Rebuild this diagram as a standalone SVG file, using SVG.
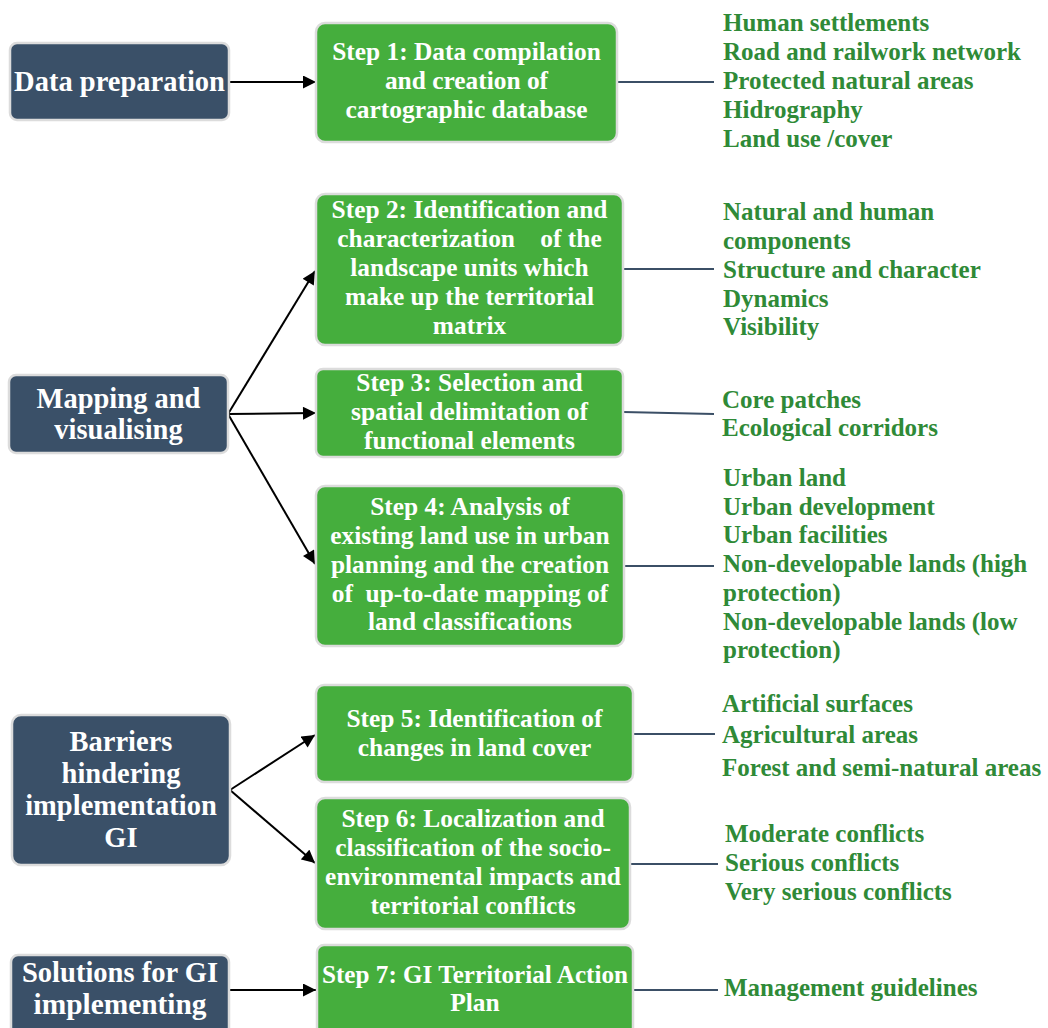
<svg xmlns="http://www.w3.org/2000/svg" width="1048" height="1028" viewBox="0 0 1048 1028">
<defs>
<marker id="ah" viewBox="0 0 10 10" refX="10" refY="5" markerWidth="7" markerHeight="6.5" markerUnits="strokeWidth" orient="auto">
<path d="M0,0 L10,5 L0,10 Z" fill="#000"/>
</marker>
<style>
.phase{fill:#3a5068;stroke:#dcdcdc;stroke-width:2.5}
.step{fill:#45ae3d;stroke:#dcdcdc;stroke-width:2.5}
.pt{font-family:"Liberation Serif",serif;font-weight:bold;font-size:28.5px;fill:#fff;text-anchor:middle}
.st{font-family:"Liberation Serif",serif;font-weight:bold;font-size:25.4px;fill:#fff;text-anchor:middle;white-space:pre}
.it{font-family:"Liberation Serif",serif;font-weight:bold;font-size:25px;fill:#2f8a37}
.arr{stroke:#000;stroke-width:2;fill:none;marker-end:url(#ah)}
.ln{stroke:#3b4f66;stroke-width:2.2;fill:none}
</style>
</defs>
<rect width="1048" height="1028" fill="#fff"/>
<g id="connectors">
<line class="arr" x1="229" y1="82" x2="316" y2="82"/>
<line class="arr" x1="228" y1="414" x2="315" y2="271"/>
<line class="arr" x1="228" y1="414" x2="316" y2="413"/>
<line class="arr" x1="228" y1="414" x2="315" y2="564"/>
<line class="arr" x1="230" y1="790" x2="315" y2="735"/>
<line class="arr" x1="230" y1="790" x2="315" y2="863"/>
<line class="arr" x1="229" y1="990" x2="316" y2="990"/>
<line class="ln" x1="617" y1="82" x2="714" y2="82"/>
<line class="ln" x1="623" y1="269" x2="714" y2="269"/>
<line class="ln" x1="623" y1="412" x2="714" y2="414"/>
<line class="ln" x1="624" y1="566" x2="714" y2="566"/>
<line class="ln" x1="633" y1="734" x2="715" y2="734"/>
<line class="ln" x1="630" y1="864" x2="718" y2="864"/>
<line class="ln" x1="633" y1="990" x2="718" y2="990"/>
</g>
<g id="phase1">
<rect class="phase" x="10" y="43" width="219" height="77" rx="7"/>
<text class="pt" x="119.5" y="91">Data preparation</text>
</g>
<g id="phase2">
<rect class="phase" x="9" y="375" width="219" height="78" rx="7"/>
<text class="pt" x="118.5" y="408">Mapping and</text>
<text class="pt" x="118.5" y="439">visualising</text>
</g>
<g id="phase3">
<rect class="phase" x="12" y="715" width="218" height="150" rx="9"/>
<text class="pt" x="121" y="751">Barriers</text>
<text class="pt" x="121" y="783">hindering</text>
<text class="pt" x="121" y="815">implementation</text>
<text class="pt" x="121" y="847">GI</text>
</g>
<g id="phase4">
<rect class="phase" x="11" y="955" width="218" height="80" rx="7"/>
<text class="pt" x="120" y="982" textLength="196" lengthAdjust="spacingAndGlyphs">Solutions for GI</text>
<text class="pt" x="120" y="1014" textLength="173" lengthAdjust="spacingAndGlyphs">implementing</text>
</g>
<g id="step1">
<rect class="step" x="316" y="23" width="301" height="119" rx="9"/>
<text class="st" x="466.5" y="60">Step 1: Data compilation</text>
<text class="st" x="466.5" y="89">and creation of</text>
<text class="st" x="466.5" y="118">cartographic database</text>
</g>
<g id="step2">
<rect class="step" x="316" y="194" width="307" height="151" rx="9"/>
<text class="st" x="469.5" y="218">Step 2: Identification and</text>
<text class="st" x="469.5" y="247">characterization    of the</text>
<text class="st" x="469.5" y="276">landscape units which</text>
<text class="st" x="469.5" y="305">make up the territorial</text>
<text class="st" x="469.5" y="334">matrix</text>
</g>
<g id="step3">
<rect class="step" x="316" y="369" width="307" height="88" rx="7"/>
<text class="st" x="469.5" y="391">Step 3: Selection and</text>
<text class="st" x="469.5" y="420">spatial delimitation of</text>
<text class="st" x="469.5" y="449">functional elements</text>
</g>
<g id="step4">
<rect class="step" x="316" y="486" width="308" height="160" rx="9"/>
<text class="st" x="470" y="515">Step 4: Analysis of</text>
<text class="st" x="470" y="544">existing land use in urban</text>
<text class="st" x="470" y="573">planning and the creation</text>
<text class="st" x="470" y="602">of  up-to-date mapping of</text>
<text class="st" x="470" y="630">land classifications</text>
</g>
<g id="step5">
<rect class="step" x="316" y="685" width="317" height="97" rx="8"/>
<text class="st" x="474.5" y="727">Step 5: Identification of</text>
<text class="st" x="474.5" y="756">changes in land cover</text>
</g>
<g id="step6">
<rect class="step" x="316" y="798" width="314" height="131" rx="9"/>
<text class="st" x="473" y="827">Step 6: Localization and</text>
<text class="st" x="473" y="856">classification of the socio-</text>
<text class="st" x="473" y="885">environmental impacts and</text>
<text class="st" x="473" y="914">territorial conflicts</text>
</g>
<g id="step7">
<rect class="step" x="317" y="945" width="316" height="95" rx="7"/>
<text class="st" x="475" y="983" textLength="306" lengthAdjust="spacingAndGlyphs">Step 7: GI Territorial Action</text>
<text class="st" x="475" y="1011">Plan</text>
</g>
<g id="items1">
<text class="it" x="723" y="31">Human settlements</text>
<text class="it" x="723" y="60">Road and railwork network</text>
<text class="it" x="723" y="89">Protected natural areas</text>
<text class="it" x="723" y="118">Hidrography</text>
<text class="it" x="723" y="147">Land use /cover</text>
</g>
<g id="items2">
<text class="it" x="723" y="220">Natural and human</text>
<text class="it" x="723" y="249">components</text>
<text class="it" x="723" y="278">Structure and character</text>
<text class="it" x="723" y="307">Dynamics</text>
<text class="it" x="723" y="335">Visibility</text>
</g>
<g id="items3">
<text class="it" x="722" y="408">Core patches</text>
<text class="it" x="722" y="436">Ecological corridors</text>
</g>
<g id="items4">
<text class="it" x="723" y="486">Urban land</text>
<text class="it" x="723" y="515">Urban development</text>
<text class="it" x="723" y="543">Urban facilities</text>
<text class="it" x="723" y="572">Non-developable lands (high</text>
<text class="it" x="723" y="601">protection)</text>
<text class="it" x="723" y="630">Non-developable lands (low</text>
<text class="it" x="723" y="658">protection)</text>
</g>
<g id="items5">
<text class="it" x="722" y="712">Artificial surfaces</text>
<text class="it" x="722" y="743">Agricultural areas</text>
<text class="it" x="722" y="776">Forest and semi-natural areas</text>
</g>
<g id="items6">
<text class="it" x="725" y="842">Moderate conflicts</text>
<text class="it" x="725" y="871">Serious conflicts</text>
<text class="it" x="725" y="900">Very serious conflicts</text>
</g>
<g id="items7">
<text class="it" x="724" y="996">Management guidelines</text>
</g>
</svg>
